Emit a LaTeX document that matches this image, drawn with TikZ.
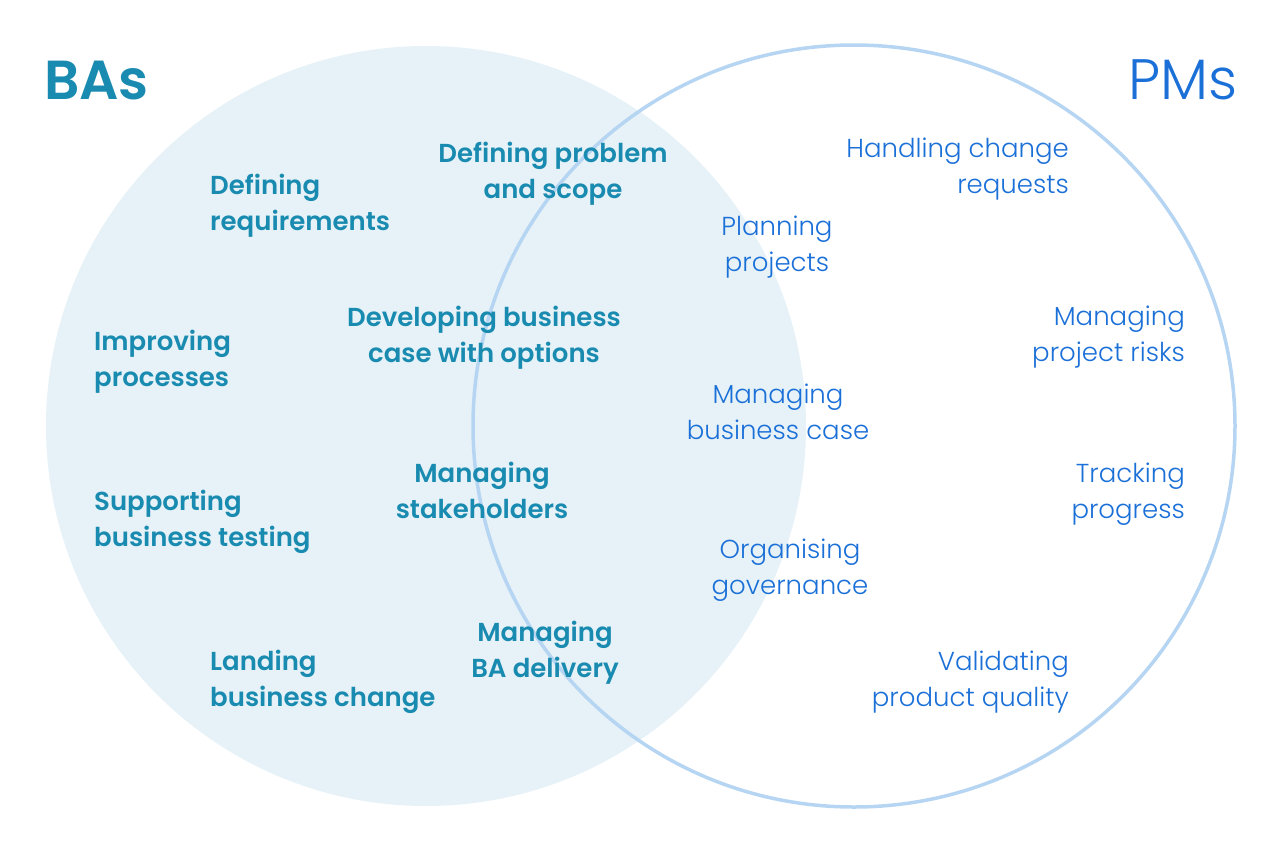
\documentclass[tikz,border=0pt]{standalone}
\usepackage{fontspec}
\setmainfont{Poppins}
\newfontfamily\bafont{Poppins SemiBold}
\newfontfamily\pmfont{Poppins Light}
\usepackage{tikz}
\usetikzlibrary{shapes.geometric, positioning}
\definecolor{baFill}{HTML}{E6F2F7}
\definecolor{pmLine}{HTML}{B6D5F2}
\definecolor{baBlue}{HTML}{1A8BB0}
\definecolor{pmBlue}{HTML}{1B70D8}
\tikzstyle{baCircle} = [circle, minimum size = 760pt, fill=baFill, inner sep=0pt]
\tikzstyle{pmCircle} = [circle, minimum size = 762pt, draw=pmLine, line width=3.5pt, inner sep=0pt]
\tikzstyle{baText} = [
                text=baBlue,
                font=\bafont\fontsize{26}{36}\selectfont,
                inner sep=0pt
            ]
\tikzstyle{pmText} = [
                text=pmBlue,
                font=\pmfont\fontsize{26}{36}\selectfont,
                inner sep=0pt
            ]
\begin{document}
\begin{tikzpicture}[x=1pt, y=-1pt]
                            \useasboundingbox (0,0) rectangle (1280,852);
                            \node (baSet) [baCircle] at (426,426) {};
                            \node (pmSet) [pmCircle] at (854,426) {};
                            \node (baTitle) [baText, anchor=base west, font=\bafont\fontsize{55}{60}\selectfont] at (44,99) {BAs};
                            \node (pmTitle) [pmText, anchor=base east, font=\pmfont\fontsize{57}{60}\selectfont] at (1238,99) {PMs};
                            % BA only
                            \node (defReq) [baText, anchor=base west, align=left] at (210,230) {Defining\\requirements};
                            \node (impProc) [baText, anchor=base west, align=left] at (94,386) {Improving\\processes};
                            \node (supTest) [baText, anchor=base west, align=left] at (94,546) {Supporting\\business testing};
                            \node (landChange) [baText, anchor=base west, align=left] at (210,706) {Landing\\business change};
                            % BA, in the middle
                            \node (defProb) [baText, anchor=base, align=center] at (553,198) {Defining problem\\and scope};
                            \node (devCase) [baText, anchor=base, align=center] at (484,362) {Developing business\\case with options};
                            \node (manStake) [baText, anchor=base, align=center] at (482,518) {Managing\\stakeholders};
                            \node (manDel) [baText, anchor=base, align=center] at (545,677) {Managing\\BA delivery};
                            % PM, in the middle
                            \node (planProj) [pmText, anchor=base, align=center] at (777,271) {Planning\\projects};
                            \node (manCase) [pmText, anchor=base, align=center] at (778,439) {Managing\\business case};
                            \node (orgGov) [pmText, anchor=base, align=center] at (790,594) {Organising\\governance};
                            % PM only
                            \node (handChange) [pmText, anchor=base east, align=right] at (1069,193) {Handling change\\requests};
                            \node (manRisk) [pmText, anchor=base east, align=right] at (1185,361) {Managing\\project risks};
                            \node (trackProg) [pmText, anchor=base east, align=right] at (1185,518) {Tracking\\progress};
                            \node (valQual) [pmText, anchor=base east, align=right] at (1069,706) {Validating\\product quality};
                        \end{tikzpicture}
\end{document}
